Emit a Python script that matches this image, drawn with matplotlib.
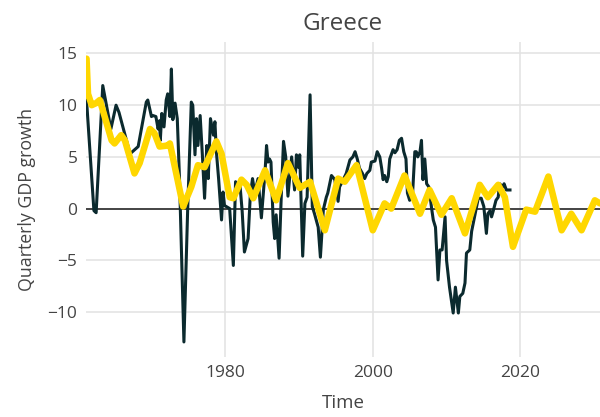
import matplotlib
matplotlib.use("Agg")
import matplotlib.pyplot as plt

gdp_years = [1961.2, 1962.2, 1962.5, 1963.4, 1964.5, 1965.2, 1965.6, 1967.1, 1968.2, 1969.3,
             1969.5, 1970.0, 1970.2, 1970.6, 1970.9, 1971.1, 1971.2, 1971.4, 1971.7, 1972.0,
             1972.2, 1972.5, 1972.7, 1972.9, 1973.2, 1973.5, 1973.8, 1974.4, 1974.9, 1975.4,
             1975.6, 1975.9, 1976.1, 1976.3, 1976.6, 1976.9, 1977.2, 1977.5, 1977.7, 1978.0,
             1978.4, 1978.6, 1978.8, 1979.1, 1979.5, 1979.7, 1979.9, 1980.6, 1981.1, 1981.4,
             1981.7, 1982.0, 1982.3, 1982.6, 1983.1, 1983.4, 1983.7, 1984.0, 1984.45, 1984.9,
             1985.4, 1985.6, 1985.8, 1986.0, 1986.2, 1986.5, 1986.7, 1986.9, 1987.3, 1987.6,
             1987.9, 1988.2, 1988.5, 1989.0, 1989.4, 1989.65, 1989.9, 1990.1, 1990.5, 1990.8,
             1991.1, 1991.5, 1991.8, 1992.1, 1992.6, 1992.9, 1993.3, 1993.7, 1993.9, 1994.4,
             1994.85, 1995.3, 1995.5, 1996.0, 1996.4, 1996.9, 1997.3, 1997.6, 1997.9, 1998.2,
             1998.6, 1998.9, 1999.2, 1999.6, 1999.8, 2000.3, 2000.6, 2000.95, 2001.2, 2001.4,
             2001.6, 2001.9, 2002.1, 2002.3, 2002.75, 2003.0, 2003.3, 2003.6, 2003.9, 2004.2,
             2004.5, 2004.7, 2005.0, 2005.4, 2005.7, 2005.9, 2006.1, 2006.4, 2006.6, 2006.8,
             2007.05, 2007.3, 2007.6, 2008.0, 2008.2, 2008.5, 2008.85, 2009.1, 2009.4, 2009.8,
             2010.0, 2010.4, 2010.9, 2011.2, 2011.6, 2011.8, 2012.2, 2012.5, 2012.7, 2013.15,
             2013.4, 2013.8, 2014.3, 2014.7, 2015.05, 2015.4, 2015.6, 2015.9, 2016.1, 2016.3,
             2016.7, 2017.0, 2017.2, 2017.6, 2017.8, 2018.1, 2018.6]
gdp_values = [10.5, -0.2, -0.4, 11.9, 7.7, 10.0, 9.3, 5.3, 6.0, 10.3,
              10.5, 8.9, 9.0, 8.9, 7.7, 8.5, 6.6, 9.2, 7.9, 10.5,
              11.1, 8.9, 13.5, 8.6, 10.2, 8.7, 2.9, -12.9, -0.3, 10.3,
              10.0, 5.2, 8.7, 6.1, 9.0, 5.2, 1.0, 6.1, 2.9, 8.7,
              7.1, 8.4, 5.5, 2.9, -1.1, 1.6, 0.3, 0.0, -5.5, 2.6,
              1.6, 2.3, -0.3, -4.2, -2.9, 1.3, 2.9, 1.5, 2.9, -0.9,
              3.6, 6.1, 4.5, 4.8, 4.5, -1.3, -2.9, -0.6, -4.8, 1.3,
              6.5, 5.0, 1.2, 5.0, 1.8, 5.2, 4.0, 5.2, -4.6, 0.5,
              1.1, 11.0, 0.2, -0.5, -1.8, -4.7, -0.1, 1.1, 1.5, 3.2,
              2.8, 0.7, 2.1, 2.8, 3.4, 4.7, 5.0, 5.5, 4.8, 3.9,
              3.4, 2.9, 3.4, 3.7, 4.5, 4.6, 5.5, 5.0, 3.9, 2.8,
              3.2, 2.6, 3.1, 4.8, 5.7, 5.4, 5.7, 6.6, 6.8, 5.5,
              4.8, 1.5, 0.8, 1.5, 5.5, 5.5, 5.0, 5.5, 6.6, 2.8,
              4.8, 2.4, 2.1, -0.1, -1.1, -1.8, -6.9, -4.0, -4.0, -0.8,
              -5.0, -7.6, -10.1, -7.6, -10.1, -8.5, -8.2, -7.2, -4.3, -4.0,
              -2.2, -0.8, 1.0, 1.0, 0.2, -2.4, -0.5, -0.2, -0.8, -0.3,
              0.8, 1.1, 2.4, 2.1, 2.4, 1.8, 1.8]

# smoothed / projected series (yellow)
trend_years = [1961.2, 1961.4, 1961.9, 1962.5, 1963.0, 1964.6, 1965.0, 1965.9, 1966.4, 1967.7,
               1968.4, 1969.8, 1970.4, 1971.1, 1972.2, 1972.5, 1974.3, 1975.4, 1976.3, 1977.2,
               1978.8, 1979.5, 1980.6, 1981.1, 1982.2, 1982.9, 1983.8, 1985.4, 1986.9, 1988.5,
               1990.1, 1991.5, 1993.5, 1995.3, 1996.2, 1997.8, 2000.0, 2001.6, 2002.5, 2004.3,
               2006.4, 2007.7, 2009.3, 2010.7, 2012.5, 2014.5, 2015.6, 2017.0, 2017.9, 2019.0,
               2020.8, 2022.0, 2023.8, 2025.6, 2026.9, 2028.3, 2030.1, 2030.8]
trend_values = [14.5, 11.1, 10.0, 10.2, 10.5, 6.6, 6.3, 7.1, 6.6, 3.4,
                4.4, 7.7, 7.3, 6.0, 6.1, 6.3, 0.2, 2.1, 4.2, 4.0,
                6.5, 5.3, 1.1, 1.0, 2.8, 2.3, 1.0, 3.7, 0.8, 4.4,
                2.0, 2.6, -2.1, 2.9, 2.6, 4.2, -2.1, 0.5, 0.0, 3.2,
                -0.5, 1.8, -0.6, 1.0, -2.4, 2.3, 1.1, 2.3, 1.1, -3.7,
                -0.1, -0.3, 3.1, -2.1, -0.5, -2.1, 0.8, 0.5]

y_ticks = [-10, -5, 0, 5, 10, 15]
x_ticks = [1980, 2000, 2020]

plt.rcParams['font.family'] = ['Open Sans', 'DejaVu Sans']
text_col = '#444444'

fig = plt.figure(figsize=(6, 4.17), dpi=100)
ax = fig.add_axes([0.143, 0.144, 0.857, 0.755])

ax.plot(gdp_years, gdp_values, color='#0b2a2e', linewidth=2.2, zorder=3,
        solid_joinstyle='round')
ax.plot(trend_years, trend_values, color='#ffd700', linewidth=4.7, zorder=4,
        solid_joinstyle='round', solid_capstyle='round')

ax.axhline(0, color='#444444', linewidth=1.4, zorder=2)

ax.set_xlim(1961.1, 2030.8)
ax.set_ylim(-14.35, 16.1)
ax.set_xticks(x_ticks)
ax.set_yticks(y_ticks)
ax.set_yticklabels(['\u2212' + str(-t) if t < 0 else str(t) for t in y_ticks])
ax.grid(True, color='#e2e2e2', linewidth=1.1, zorder=0)
ax.set_axisbelow(True)
for s in ax.spines.values():
    s.set_visible(False)
ax.tick_params(length=0, labelsize=12.5, colors=text_col, pad=6)

ax.set_title('Greece', fontsize=17.5, color=text_col, pad=9)
ax.set_xlabel('Time', fontsize=13.5, color=text_col, labelpad=9)
ax.set_ylabel('Quarterly GDP growth', fontsize=12.8, color=text_col, labelpad=8)

fig.savefig('out.png', dpi=100)
